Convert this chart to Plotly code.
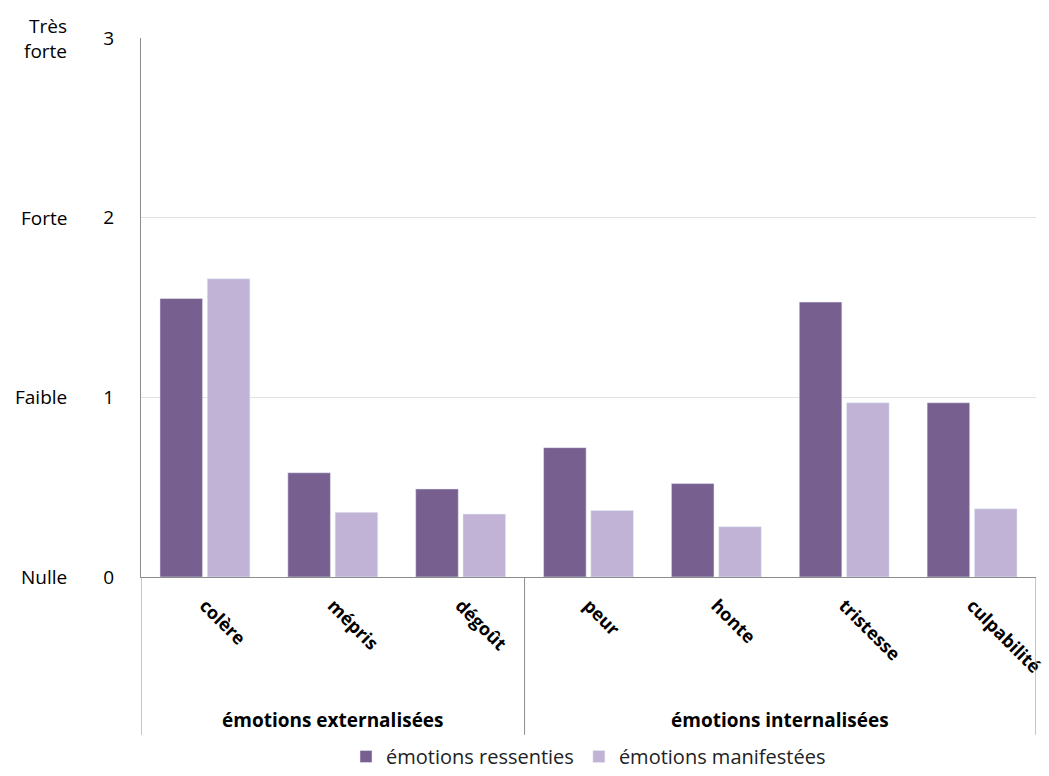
import plotly.graph_objects as go

# Intensity of emotions (0 = Nulle ... 3 = Très forte)
categories = ["colère", "mépris", "dégoût", "peur", "honte", "tristesse", "culpabilité"]
ressenties = [1.55, 0.58, 0.49, 0.72, 0.52, 1.53, 0.97]
manifestees = [1.66, 0.36, 0.35, 0.37, 0.28, 0.97, 0.38]

groups = ["émotions externalisées", "émotions internalisées"]
group_spans = [(0, 2), (3, 6)]

level_values = [0, 1, 2, 3]
level_words = ["Nulle", "Faible", "Forte", "Très<br>forte"]

series_names = ["émotions ressenties", "émotions manifestées"]
dark = "#77608F"
light = "#C0B3D5"
font_family = "'Open Sans', Lato, sans-serif"

x_idx = list(range(len(categories)))

fig = go.Figure()
fig.add_trace(go.Bar(x=x_idx, y=ressenties, name=series_names[0], marker_color=dark))
fig.add_trace(go.Bar(x=x_idx, y=manifestees, name=series_names[1], marker_color=light))

axis_grey = "#8C8C8C"
low = -0.293  # bottom of the category box, in paper units

shapes = []
bounds = [-0.5] + [span[1] + 0.5 for span in group_spans]
for b in bounds:
    shapes.append(dict(type="line", xref="x", yref="paper", x0=b, x1=b, y0=0, y1=low,
                       line=dict(color=axis_grey, width=1)))

annotations = []
for name, (a, b) in zip(groups, group_spans):
    annotations.append(dict(text=f"<b>{name}</b>", x=(a + b) / 2, y=-0.265, xref="x", yref="paper",
                            showarrow=False, xanchor="center", yanchor="middle",
                            font=dict(size=19, color="black", family=font_family)))
for v, w in zip(level_values, level_words):
    annotations.append(dict(text=w, x=-0.080, y=v, xref="paper", yref="y", showarrow=False,
                            xanchor="right", yanchor="middle", align="right",
                            font=dict(size=19, color="black", family=font_family)))

fig.update_layout(
    width=1049, height=776,
    margin=dict(l=141, r=13, t=38, b=199),
    plot_bgcolor="white", paper_bgcolor="white",
    barmode="group", bargap=0.26, bargroupgap=0.1,
    font=dict(family=font_family, color="black"),
    shapes=shapes, annotations=annotations,
    legend=dict(orientation="h", x=0.5, xanchor="center", yref="container", y=0.0,
                yanchor="bottom", font=dict(size=20, color="#222"), tracegroupgap=0,
                itemwidth=30),
    xaxis=dict(range=[-0.5, len(categories) - 0.5], tickvals=x_idx,
               ticktext=[f"<b>{c}</b>" for c in categories], tickangle=45,
               tickfont=dict(size=18, color="black", family=font_family),
               showline=True, linecolor=axis_grey, linewidth=1, showgrid=False,
               ticks="outside", ticklen=10, tickcolor="rgba(0,0,0,0)",
               zeroline=False, automargin=False, ticklabeloverflow="allow"),
    yaxis=dict(range=[0, 3], tickvals=level_values, ticktext=[str(v) for v in level_values],
               tickfont=dict(size=19, color="black", family=font_family),
               showline=True, linecolor=axis_grey, linewidth=1,
               showgrid=True, gridcolor="#E2E2E2", gridwidth=1,
               zeroline=False, ticks="", ticklabelstandoff=22, automargin=False),
)

fig.write_html("out.html")
